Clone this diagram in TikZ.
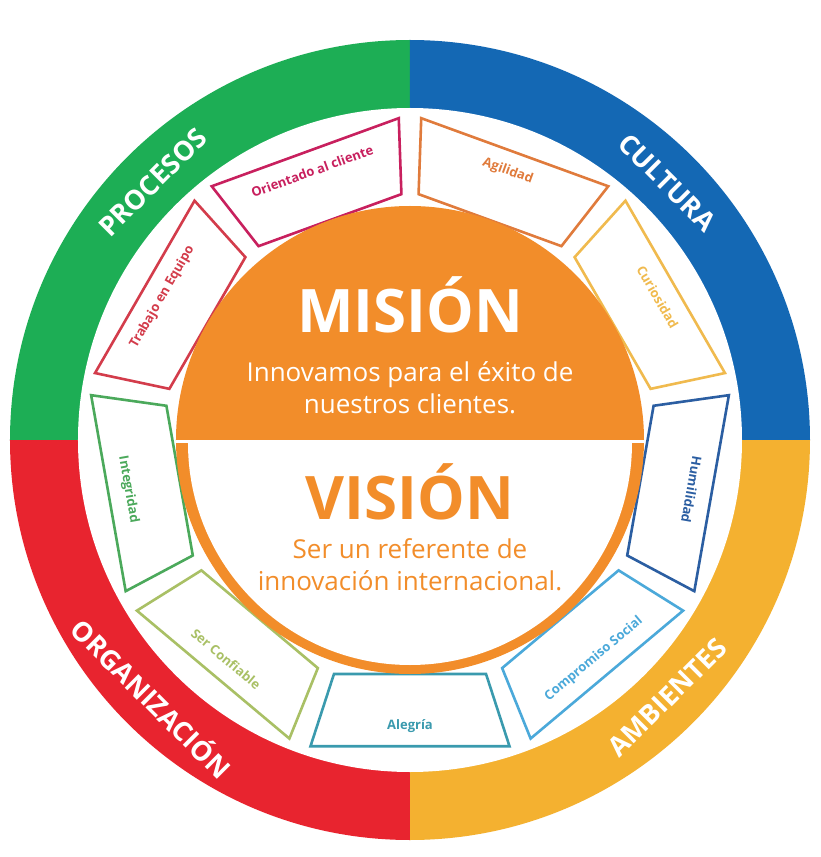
\documentclass[tikz,border=0pt]{standalone}
\usepackage{fontspec}
\setmainfont{Open Sans}
\definecolor{verde}{HTML}{1DAE55}
\definecolor{azul}{HTML}{1468B4}
\definecolor{amarillo}{HTML}{F4B130}
\definecolor{rojo}{HTML}{E8242F}
\definecolor{naranja}{HTML}{F28D2A}
\definecolor{cmag}{HTML}{C8205E}
\definecolor{cnar}{HTML}{E07B3C}
\definecolor{cama}{HTML}{F0BA4E}
\definecolor{cazu}{HTML}{2B5EA2}
\definecolor{ccel}{HTML}{4BA9DA}
\definecolor{cteal}{HTML}{3A9AAE}
\definecolor{coli}{HTML}{A9C065}
\definecolor{cver}{HTML}{4BA95B}
\definecolor{croj}{HTML}{D33C4B}
\begin{document}
\begin{tikzpicture}[x=1pt,y=1pt]
            \tikzstyle{cuadrante} = [text=white, font=\fontsize{27}{27}\selectfont\bfseries]
            \tikzstyle{valor} = [font=\fontsize{13}{13}\selectfont\bfseries]
            \tikzstyle{titulo} = [font=\fontsize{60}{60}\selectfont\bfseries]
            \tikzstyle{texto} = [font=\fontsize{26}{32}\selectfont, align=center]

            \useasboundingbox (-410,-417) rectangle (410,440);
            \fill[white] (-410,-417) rectangle (410,440);

            % anillo exterior
            \fill[verde] (0,0) -- (180:400) arc (180:90:400) -- cycle;
            \fill[azul] (0,0) -- (90:400) arc (90:0:400) -- cycle;
            \fill[amarillo] (0,0) -- (0:400) arc (0:-90:400) -- cycle;
            \fill[rojo] (0,0) -- (-90:400) arc (-90:-180:400) -- cycle;
            \fill[white] (0,0) circle (332);

            \node[cuadrante, rotate=45] (procesos) at (135:364) {PROCESOS};
            \node[cuadrante, rotate=-45] (cultura) at (45:364) {CULTURA};
            \node[cuadrante, rotate=45] (ambientes) at (-45:364) {AMBIENTES};
            \node[cuadrante, rotate=-45] (organizacion) at (-135:364) {ORGANIZACIÓN};

            % valores
            \foreach \ang/\col/\rot/\nombre/\txt in {
                    110/cmag/20/orientado/Orientado al cliente,
                    70/cnar/-20/agilidad/Agilidad,
                    30/cama/-60/curiosidad/Curiosidad,
                    -10/cazu/-100/humildad/Humilidad,
                    -50/ccel/40/compromiso/Compromiso Social,
                    -90/cteal/0/alegria/Alegría,
                    -130/coli/-40/confiable/Ser Confiable,
                    -170/cver/-80/integridad/Integridad,
                    150/croj/60/trabajo/Trabajo en Equipo} {
                    \draw[\col, line width=2.6pt, line join=miter]
                        (\ang-18:246) -- (\ang-18:322) -- (\ang+18:322) -- (\ang+18:246) -- cycle;
                    \node[valor, text=\col, rotate=\rot] (\nombre) at (\ang:286) {\txt};
                }

            % mision y vision
            \fill[naranja] (0,0) circle (234);
            \fill[white] (-222,-3) -- (222,-3) arc (0:-180:222) -- cycle;
            \fill[white] (-234,-3) rectangle (234,0);
            \node[titulo, text=white] (mision) at (0,135) {MISIÓN};
            \node[texto, text=white] (textomision) at (0,52) {Innovamos para el éxito de\\nuestros clientes.};
            \node[titulo, text=naranja] (vision) at (0,-52) {VISIÓN};
            \node[texto, text=naranja] (textovision) at (0,-125) {Ser un referente de\\innovación internacional.};
        \end{tikzpicture}
\end{document}
